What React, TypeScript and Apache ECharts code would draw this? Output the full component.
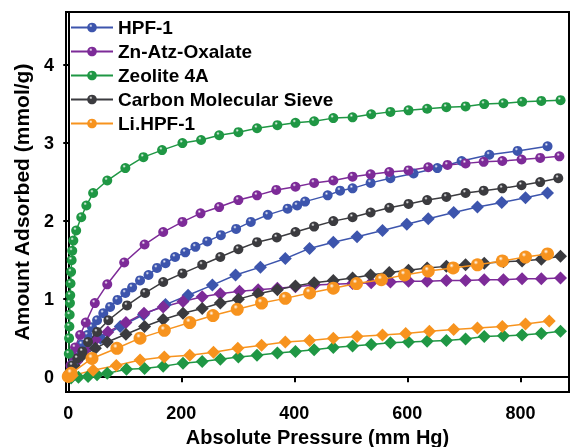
import React, { useEffect, useRef } from "react";
import * as echarts from "echarts";

const xTicks = [0, 200, 400, 600, 800];
const yTicks = [0, 1, 2, 3, 4];

const materials = ["HPF-1", "Zn-Atz-Oxalate", "Zeolite 4A", "Carbon Molecular Sieve", "Li.HPF-1"];
const colors = ["#3d55ad", "#7d2b98", "#1f9744", "#3b3b3f", "#f7931e"];

// circles (CO2)
const hpfCirc = [[2,0.05],[8,0.18],[15,0.3],[24,0.42],[34,0.54],[42,0.64],[51,0.73],[62,0.82],[74,0.9],[87,0.99],[101,1.08],[113,1.15],[127,1.24],[142,1.31],[157,1.4],[172,1.46],[189,1.54],[207,1.6],[225,1.67],[246,1.74],[270,1.82],[297,1.9],[323,1.99],[353,2.08],[388,2.16],[405,2.2],[419,2.25],[459,2.33],[481,2.39],[503,2.42],[535,2.49],[570,2.55],[611,2.61],[653,2.68],[696,2.77],[745,2.85],[795,2.9],[848,2.96]];
const znCirc = [[1,0.04],[4,0.15],[7,0.28],[12,0.38],[21,0.54],[31,0.7],[47,0.95],[69,1.19],[99,1.47],[135,1.7],[168,1.86],[202,1.99],[234,2.1],[267,2.18],[301,2.27],[334,2.33],[368,2.4],[402,2.44],[435,2.49],[469,2.52],[503,2.57],[535,2.6],[568,2.63],[602,2.65],[637,2.69],[671,2.72],[703,2.74],[735,2.76],[768,2.77],[802,2.79],[835,2.81],[869,2.83]];
const zeoCirc = [[1,0.3],[1.5,0.5],[2,0.65],[2.5,0.8],[3,0.95],[3.5,1.05],[4,1.2],[5,1.35],[6,1.5],[7,1.62],[9,1.75],[14,1.88],[23,2.05],[32,2.2],[44,2.36],[69,2.52],[101,2.68],[133,2.82],[166,2.91],[202,3.0],[235,3.04],[267,3.1],[301,3.14],[334,3.19],[370,3.23],[402,3.26],[435,3.28],[469,3.32],[503,3.33],[536,3.37],[570,3.4],[602,3.42],[635,3.44],[669,3.46],[703,3.47],[736,3.5],[770,3.51],[803,3.53],[837,3.54],[871,3.55]];
const cmsCirc = [[2,0.06],[7,0.15],[16,0.24],[25,0.33],[35,0.45],[51,0.58],[71,0.73],[104,0.92],[136,1.08],[168,1.22],[202,1.33],[237,1.44],[269,1.54],[301,1.64],[334,1.73],[369,1.79],[402,1.86],[435,1.93],[469,2.0],[503,2.05],[535,2.11],[568,2.17],[602,2.22],[635,2.27],[669,2.31],[703,2.36],[735,2.39],[768,2.42],[802,2.46],[835,2.5],[867,2.55]];
const liCirc = [[0,0.01],[5,0.05],[42,0.24],[86,0.37],[127,0.5],[170,0.6],[215,0.7],[256,0.79],[299,0.87],[342,0.95],[384,1.01],[427,1.08],[469,1.14],[510,1.2],[554,1.25],[595,1.31],[637,1.36],[681,1.4],[724,1.44],[768,1.49],[809,1.54],[848,1.58]];

// diamonds (N2)
const hpfDiam = [[3,0.05],[27,0.3],[57,0.5],[92,0.65],[133,0.8],[172,0.93],[212,1.05],[255,1.18],[296,1.31],[340,1.41],[384,1.52],[427,1.65],[469,1.73],[511,1.8],[556,1.88],[599,1.96],[637,2.03],[682,2.11],[724,2.18],[767,2.24],[809,2.3],[848,2.36]];
const znDiam = [[2,0.05],[15,0.2],[30,0.35],[48,0.48],[70,0.58],[102,0.7],[134,0.82],[168,0.9],[203,0.97],[237,1.03],[269,1.07],[303,1.1],[336,1.12],[370,1.14],[402,1.16],[435,1.18],[469,1.19],[503,1.2],[536,1.21],[570,1.22],[602,1.23],[635,1.23],[669,1.24],[703,1.24],[736,1.25],[770,1.25],[803,1.26],[837,1.26],[871,1.27]];
const zeoDiam = [[5,-0.01],[18,0.0],[35,0.01],[51,0.03],[69,0.05],[103,0.1],[135,0.11],[168,0.14],[203,0.18],[237,0.2],[269,0.23],[301,0.26],[334,0.28],[370,0.31],[402,0.33],[435,0.35],[469,0.38],[503,0.4],[536,0.42],[570,0.44],[602,0.45],[635,0.46],[669,0.47],[703,0.49],[736,0.52],[770,0.53],[803,0.54],[837,0.56],[871,0.59]];
const cmsDiam = [[2,0.04],[10,0.15],[25,0.28],[48,0.37],[69,0.45],[102,0.55],[135,0.65],[168,0.74],[203,0.82],[237,0.88],[269,0.95],[301,1.0],[336,1.07],[370,1.12],[402,1.17],[435,1.21],[469,1.24],[503,1.27],[535,1.31],[568,1.34],[602,1.37],[635,1.4],[669,1.42],[703,1.44],[736,1.46],[770,1.48],[803,1.49],[837,1.51],[871,1.55]];
const liDiam = [[7,0.02],[44,0.09],[85,0.15],[127,0.22],[170,0.26],[215,0.28],[257,0.32],[300,0.37],[342,0.41],[384,0.45],[427,0.47],[469,0.5],[511,0.52],[556,0.54],[597,0.56],[639,0.59],[682,0.61],[724,0.63],[768,0.65],[809,0.68],[851,0.72]];

const circData = [hpfCirc, znCirc, zeoCirc, cmsCirc, liCirc];
const diamData = [hpfDiam, znDiam, zeoDiam, cmsDiam, liDiam];

const FONT = "Liberation Sans, Arial, sans-serif";

function sphere(c: string) {
  return new echarts.graphic.RadialGradient(0.38, 0.32, 0.7, [
    { offset: 0, color: "#ffffff" },
    { offset: 0.25, color: c },
    { offset: 1, color: c },
  ]);
}

export default function App() {
  const ref = useRef<HTMLDivElement>(null);
  useEffect(() => {
    if (!ref.current) return;
    const chart = echarts.init(ref.current, undefined, { renderer: "svg" });
    const series: any[] = [];
    diamData.forEach((d, i) => {
      series.push({
        name: materials[i] + " N2",
        type: "line",
        data: d,
        symbol: "diamond",
        symbolSize: [13, 13],
        lineStyle: { color: colors[i], width: 1.5 },
        itemStyle: { color: colors[i] },
        z: 2,
      });
    });
    circData.forEach((d, i) => {
      series.push({
        name: materials[i],
        type: "line",
        data: d,
        symbol: "circle",
        symbolSize: i === 4 ? 13 : 10,
        lineStyle: { color: colors[i], width: 1.5 },
        itemStyle: { color: sphere(colors[i]) },
        z: 3 + (i === 2 ? 2 : 0),
      });
    });
    chart.setOption({
      animation: false,
      grid: {
        left: 66, right: 1, top: 12, bottom: 55,
        outerBoundsMode: "none",
        containLabel: false,
        show: true, borderColor: "#000", borderWidth: 2, backgroundColor: "transparent",
      },
      legend: {
        data: materials,
        orient: "vertical",
        left: 65, top: 13, z: 10,
        itemWidth: 42, itemHeight: 12, itemGap: 5,
        textStyle: { fontFamily: FONT, fontWeight: "bold", fontSize: 19, color: "#000" },
      },
      xAxis: {
        type: "value",
        min: -4, max: 886,
        name: "Absolute Pressure (mm Hg)",
        nameLocation: "middle",
        nameGap: 35,
        nameTextStyle: { fontFamily: FONT, fontWeight: "bold", fontSize: 20, color: "#000" },
        axisLine: { show: true, lineStyle: { color: "#000", width: 2 } },
        axisTick: { show: true, customValues: xTicks, length: 5, lineStyle: { color: "#000", width: 2 } },
        axisLabel: { customValues: xTicks, margin: 12, fontFamily: FONT, fontWeight: "bold", fontSize: 18, color: "#000" },
        splitLine: { show: false },
      },
      yAxis: {
        type: "value",
        min: -0.19, max: 4.68,
        name: "Amount Adsorbed (mmol/g)",
        nameLocation: "middle",
        nameGap: 34,
        nameTextStyle: { fontFamily: FONT, fontWeight: "bold", fontSize: 21, color: "#000" },
        axisLine: { show: true, lineStyle: { color: "#000", width: 2 } },
        axisTick: { show: true, customValues: yTicks, length: 5, lineStyle: { color: "#000", width: 2 } },
        axisLabel: { customValues: yTicks, margin: 12, fontFamily: FONT, fontWeight: "bold", fontSize: 18, color: "#000" },
        splitLine: { show: false },
      },
      series,
    });
    return () => chart.dispose();
  }, []);
  return <div ref={ref} style={{ position: "fixed", left: 0, top: 0, width: 570, height: 447 }} />;
}
